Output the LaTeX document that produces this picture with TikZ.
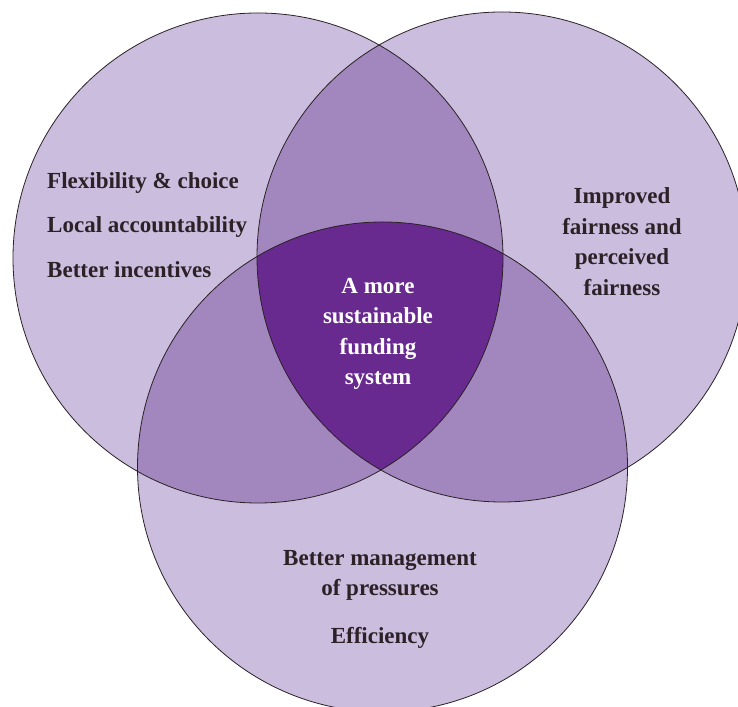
\documentclass[tikz,border=0pt]{standalone}
\usepackage{fontspec}
\setmainfont{Liberation Serif}
\usepackage{xcolor}
\usepackage{tikz}
\usetikzlibrary{positioning}
\definecolor{vennlight}{RGB}{203, 189, 221}
\definecolor{vennmid}{RGB}{162, 135, 190}
\definecolor{venndark}{RGB}{105, 42, 144}
\definecolor{textdark}{RGB}{43, 33, 39}

\begin{document}
\begin{tikzpicture}[
    x=1pt, y=1pt,
    ring/.style={draw=textdark, line width=0.8pt},
    venntext/.style={font=\fontsize{23}{30.5}\selectfont\bfseries, color=textdark, inner sep=0pt, align=center}
]
\useasboundingbox (0,0) rectangle (738,706);
\clip (0,0) rectangle (738,706);

% Circle centres
\coordinate (lc) at (258,448);
\coordinate (rc) at (502,449);
\coordinate (bc) at (382.5,239);

% Single areas
\fill[vennlight] (lc) circle (245pt);
\fill[vennlight] (rc) circle (245pt);
\fill[vennlight] (bc) circle (245pt);

% Pairwise overlaps
\begin{scope}
    \clip (lc) circle (245pt);
    \fill[vennmid] (rc) circle (245pt);
    \fill[vennmid] (bc) circle (245pt);
\end{scope}
\begin{scope}
    \clip (rc) circle (245pt);
    \fill[vennmid] (bc) circle (245pt);
\end{scope}

% Centre overlap
\begin{scope}
    \clip (lc) circle (245pt);
    \clip (rc) circle (245pt);
    \fill[venndark] (bc) circle (245pt);
\end{scope}

% Outlines
\draw[ring] (lc) circle (245pt);
\draw[ring] (rc) circle (245pt);
\draw[ring] (bc) circle (245pt);

% Texts
\node[venntext, align=left, anchor=west, font=\fontsize{23}{44.5}\selectfont\bfseries] (left) at (47,481)
    {Flexibility \& choice\\Local accountability\\Better incentives};
\node[venntext] (right) at (622,464.5)
    {Improved\\fairness and\\perceived\\fairness};
\node[venntext, color=white] (centre) at (378,372)
    {A more\\sustainable\\funding\\system};
\node[venntext] (bottom) at (380,107)
    {Better management\\of pressures\\[17pt]Efficiency};
\end{tikzpicture}
\end{document}
